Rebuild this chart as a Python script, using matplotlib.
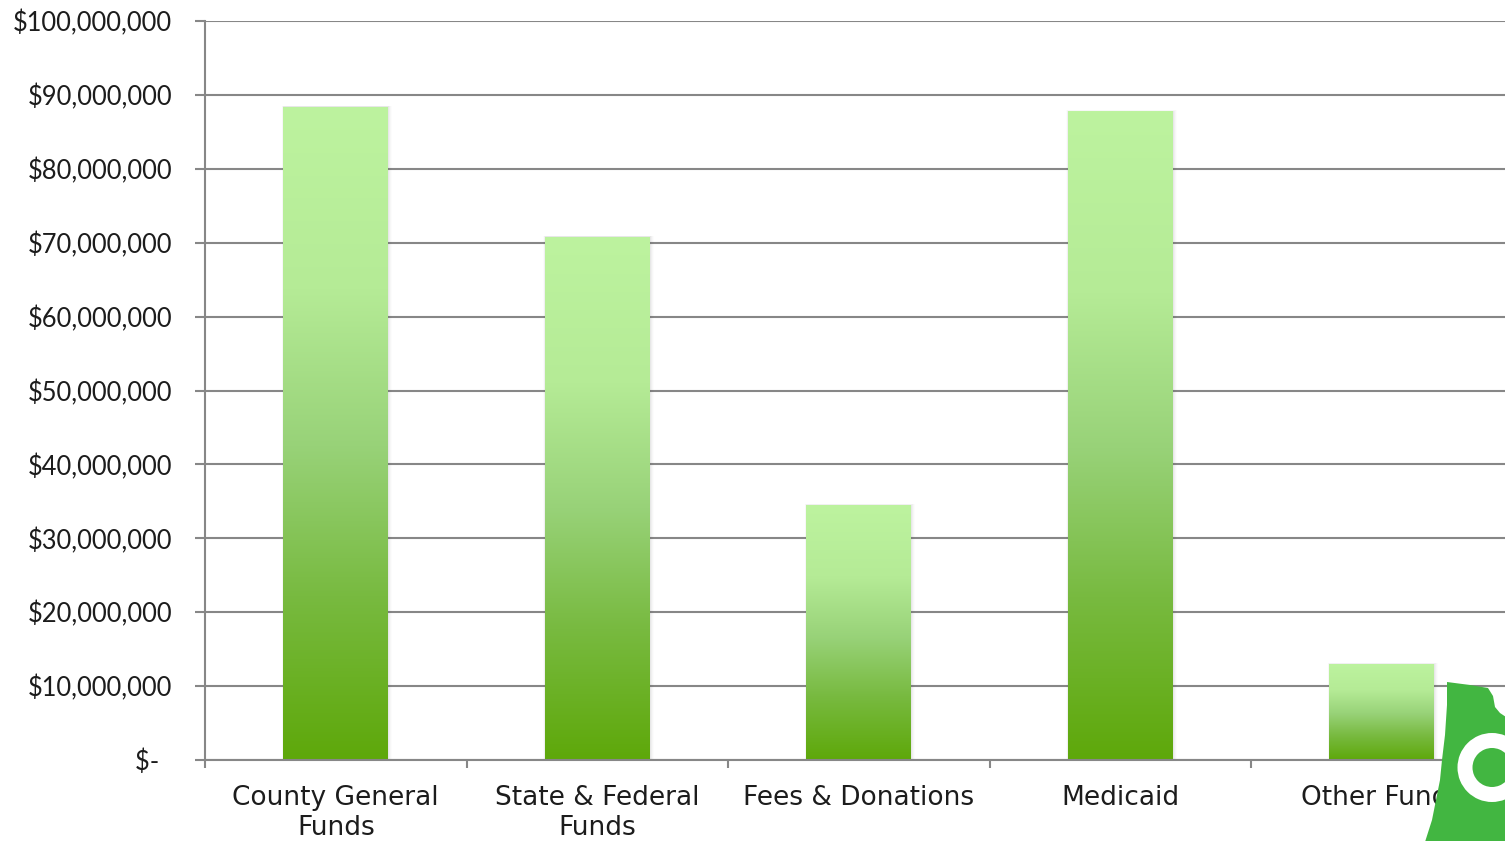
import matplotlib
matplotlib.use("Agg")
import matplotlib.pyplot as plt
import numpy as np
from matplotlib.colors import LinearSegmentedColormap
from matplotlib.patches import Rectangle, Polygon, Wedge
from matplotlib.ticker import FixedLocator, FuncFormatter

categories = ["County General\nFunds", "State & Federal\nFunds", "Fees & Donations",
              "Medicaid", "Other Funds"]
values = [88_400_000, 70_800_000, 34_500_000, 87_800_000, 13_000_000]
y_ticks = list(range(0, 100_000_001, 10_000_000))

W, H, DPI = 1505, 841, 100
plt.rcParams['font.family'] = ['Lato', 'DejaVu Sans']

fig = plt.figure(figsize=(W / DPI, H / DPI), dpi=DPI)
fig.patch.set_facecolor("white")

left_px, right_px, top_px, bottom_px = 205, 1512.5, 21, 760
ax = fig.add_axes([left_px / W, (H - bottom_px) / H,
                   (right_px - left_px) / W, (bottom_px - top_px) / H])

grid_c = "#878787"
text_c = "#1c1c1c"

ax.set_xlim(-0.5, len(categories) - 0.5)
ax.set_ylim(0, 100_000_000)

# horizontal grid
ax.yaxis.set_major_locator(FixedLocator(y_ticks))
ax.grid(axis="y", color=grid_c, linewidth=1.5, zorder=0)
ax.set_axisbelow(True)

def money(v, pos):
    if v == 0:
        return "$-  "
    return "${:,.0f}".format(v)

ax.yaxis.set_major_formatter(FuncFormatter(money))
ax.tick_params(axis="y", direction="out", length=7.2, width=1.5, color=grid_c,
               pad=16.5, labelsize=18.4, labelcolor=text_c)

# category labels centred, tick marks on the category boundaries
ax.set_xticks(range(len(categories)))
ax.set_xticklabels(categories, fontsize=19, color=text_c, linespacing=1.2,
                   family=["DejaVu Sans"])
ax.tick_params(axis="x", which="major", length=0, pad=18)
ax.set_xticks(np.arange(-0.5, len(categories), 1.0), minor=True)
ax.tick_params(axis="x", which="minor", direction="out", length=5.8, width=1.5,
               color=grid_c)

for side in ("top", "right"):
    ax.spines[side].set_visible(False)
for side in ("left", "bottom"):
    ax.spines[side].set_color(grid_c)
    ax.spines[side].set_linewidth(1.5)

# vertical gradient, light at the top, deep green at the bottom
grad = LinearSegmentedColormap.from_list(
    "bar_grad",
    [(0.0, "#5EA80A"), (0.25, "#78BA40"), (0.48, "#98D278"),
     (0.72, "#B5EB96"), (1.0, "#BDF39F")])
gimg = np.linspace(0, 1, 256).reshape(-1, 1)

bar_w = 0.40
for i, v in enumerate(values):
    x0 = i - bar_w / 2
    # soft drop shadow around the bar
    for k, a in enumerate([0.05, 0.035, 0.025, 0.015]):
        d = 0.0035 * (k + 1)
        sh = Rectangle((x0 - d * 0.4, 0), bar_w + d * 1.6, v + 40_000 * (k + 1),
                       facecolor="#444444", alpha=a, edgecolor="none", zorder=1.5)
        ax.add_patch(sh)
    rect = Rectangle((x0, 0), bar_w, v, facecolor="none", edgecolor="none", zorder=2)
    ax.add_patch(rect)
    im = ax.imshow(gimg, cmap=grad, origin="lower", aspect="auto",
                   extent=(x0, x0 + bar_w, 0, v), zorder=2, interpolation="bilinear")
    im.set_clip_path(rect)

ax.set_xlim(-0.5, len(categories) - 0.5)
ax.set_ylim(0, 100_000_000)

# logo in the lower-right corner, drawn in pixel coordinates
lax = fig.add_axes([0, 0, 1, 1], zorder=10)
lax.set_xlim(0, W)
lax.set_ylim(H, 0)
lax.axis("off")
lax.patch.set_alpha(0)
logo_green = "#42B641"
shape = [(1447, 682), (1470, 685), (1488, 688), (1493, 696), (1495, 707),
         (1500, 713), (1506, 717), (1506, 842), (1425, 842), (1432, 820),
         (1436, 800), (1440, 780), (1442, 760), (1445, 735), (1447, 705)]
lax.add_patch(Polygon(shape, closed=True, facecolor=logo_green, edgecolor="none"))
lax.add_patch(Wedge((1492, 767.5), 34.5, 0, 360, width=15, facecolor="white",
                    edgecolor="none"))

fig.savefig("out.png", dpi=DPI, facecolor="white")
